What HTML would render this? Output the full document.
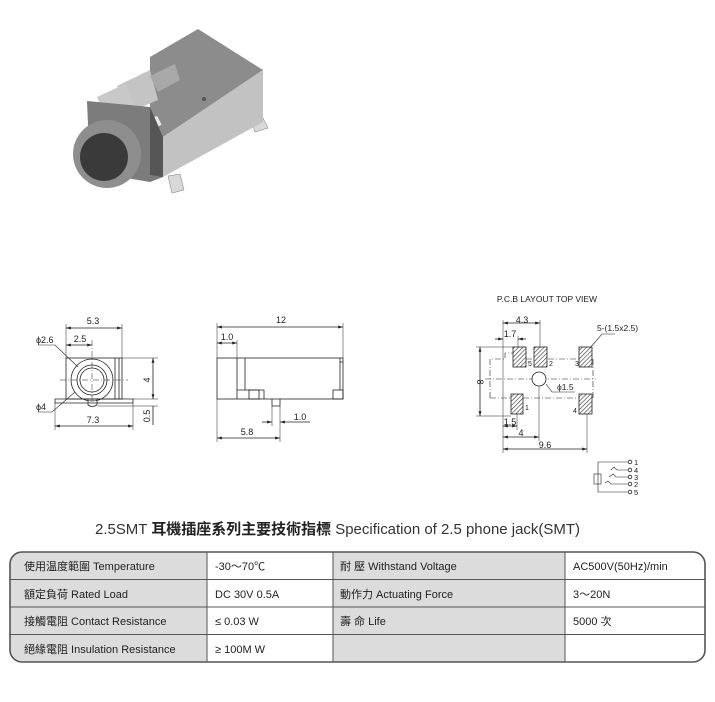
<!DOCTYPE html>
<html><head><meta charset="utf-8"><style>
html,body{margin:0;padding:0;background:#fff;}
svg{display:block;}
text{font-family:"Liberation Sans","Noto Sans CJK TC",sans-serif;fill:#222;}
.d{font-size:9px;}
.t{font-size:11px;}
</style></head><body>
<svg width="715" height="702" viewBox="0 0 715 702" xmlns="http://www.w3.org/2000/svg">
<defs>
<marker id="a" viewBox="0 0 10 10" refX="10" refY="5" markerWidth="6" markerHeight="6" orient="auto-start-reverse"><path d="M0,2 L10,5 L0,8z" fill="#222"/></marker>
<pattern id="h" width="3" height="3" patternUnits="userSpaceOnUse" patternTransform="rotate(45)"><rect width="3" height="3" fill="#fff"/><line x1="0" y1="0" x2="0" y2="3" stroke="#333" stroke-width="1.2"/></pattern>
</defs>

<!-- photo -->
<g>
<polygon points="250,118 262,116 268,128 255,132" fill="#d8d8d8" stroke="#777" stroke-width="0.5"/>
<polygon points="168,176 180,174 184,190 172,193" fill="#d8d8d8" stroke="#777" stroke-width="0.5"/>
<polygon points="150,57 198,29 263,70 163,137 150,107" fill="#8c8c8c"/>
<polygon points="263,70 263,122 163,177 163,137" fill="#c2c2c2"/>
<polygon points="117,86 150,70 158,100 130,112" fill="#c4c4c4"/>
<polygon points="97,97 125,84 138,112 108,122" fill="#c8c8c8"/>
<polygon points="150,76 175,64 180,80 158,92" fill="#a8a8a8"/>
<rect x="148" y="118" width="12" height="10" fill="#e8e8e8" transform="rotate(-28 154 123)"/>
<circle cx="204" cy="99" r="2" fill="#555"/>
<polygon points="87,101 150,107 163,137 163,177 150,182 90,172" fill="#7c7c7c"/>
<polygon points="150,107 163,137 163,177 150,175" fill="#565656"/>
<circle cx="107" cy="154" r="34" fill="#8e8e8e"/>
<circle cx="104" cy="157" r="24" fill="#3a3a3a"/>
</g>

<g stroke="#222" stroke-width="0.8" fill="none">
<!-- left view -->
<rect x="66" y="358" width="56" height="41"/>
<line x1="115" y1="358" x2="115" y2="399"/><line x1="119" y1="358" x2="119" y2="399"/>
<path d="M55,403 L55,399 L133,399 L133,403 Z"/>
<path d="M88,399 L88,405 Q92,408 97,405 L97,399"/>
<circle cx="92" cy="380" r="21"/>
<circle cx="92" cy="380" r="15"/>
<circle cx="92" cy="380" r="12"/>
<line x1="60" y1="380" x2="128" y2="380" stroke-dasharray="6,2,1,2" stroke-width="0.5"/>
<line x1="92" y1="340" x2="92" y2="403" stroke-dasharray="6,2,1,2" stroke-width="0.5"/>
<line x1="66" y1="324" x2="66" y2="358" stroke-width="0.5"/><line x1="122" y1="324" x2="122" y2="358" stroke-width="0.5"/>
<line x1="66" y1="328" x2="122" y2="328" marker-start="url(#a)" marker-end="url(#a)"/>
<line x1="66" y1="345" x2="92" y2="345" marker-start="url(#a)" marker-end="url(#a)"/>
<polyline points="38,345 55,345 78,367" stroke-width="0.6"/>
<polyline points="38,412 52,412 75,392" stroke-width="0.6"/>
<line x1="55" y1="403" x2="55" y2="430" stroke-width="0.5"/><line x1="133" y1="403" x2="133" y2="430" stroke-width="0.5"/>
<line x1="55" y1="426" x2="133" y2="426" marker-start="url(#a)" marker-end="url(#a)"/>
<line x1="122" y1="358" x2="158" y2="358" stroke-width="0.5"/><line x1="133" y1="399" x2="158" y2="399" stroke-width="0.5"/>
<line x1="98" y1="406" x2="158" y2="406" stroke-width="0.5"/>
<line x1="153" y1="358" x2="153" y2="399" marker-start="url(#a)" marker-end="url(#a)"/>
<line x1="153" y1="406" x2="153" y2="425"/>
<!-- middle view -->
<rect x="217" y="358" width="126" height="41"/>
<line x1="237" y1="358" x2="237" y2="399"/><line x1="245" y1="358" x2="245" y2="390"/>
<path d="M237,390 L264,390 L264,399"/>
<rect x="249" y="390" width="10" height="9"/>
<path d="M340,358 L340,362 L343,362"/>
<line x1="340" y1="362" x2="340" y2="390"/>
<rect x="333" y="390" width="10" height="9"/>
<path d="M272,399 L272,406 L280,406 L280,399"/>
<line x1="217" y1="323" x2="217" y2="358" stroke-width="0.5"/><line x1="343" y1="323" x2="343" y2="358" stroke-width="0.5"/>
<line x1="217" y1="327" x2="343" y2="327" marker-start="url(#a)" marker-end="url(#a)"/>
<line x1="237" y1="340" x2="237" y2="358" stroke-width="0.5"/>
<line x1="217" y1="343" x2="237" y2="343" marker-start="url(#a)" marker-end="url(#a)"/>
<line x1="217" y1="399" x2="217" y2="442" stroke-width="0.5"/>
<line x1="272" y1="406" x2="272" y2="426" stroke-width="0.5"/><line x1="280" y1="406" x2="280" y2="442" stroke-width="0.5"/>
<line x1="262" y1="422" x2="272" y2="422" marker-end="url(#a)"/>
<line x1="310" y1="422" x2="280" y2="422" marker-end="url(#a)"/>
<line x1="217" y1="438" x2="280" y2="438" marker-start="url(#a)" marker-end="url(#a)"/>
<!-- PCB -->
<g stroke-dasharray="6,2,1,2" stroke-width="0.6">
<polyline points="490,398 490,359 505,359 505,353 513,353"/>
<line x1="526" y1="359" x2="592" y2="359"/>
<line x1="485" y1="379" x2="596" y2="379"/>
<polyline points="490,398 511,398"/>
<line x1="523" y1="398" x2="579" y2="398"/>
<line x1="593" y1="359" x2="593" y2="398"/>
</g>
<g fill="url(#h)" stroke="#222">
<rect x="513" y="347" width="13" height="20"/>
<rect x="534" y="347" width="13" height="20"/>
<rect x="579" y="347" width="13" height="20"/>
<rect x="511" y="394" width="12" height="20"/>
<rect x="579" y="394" width="13" height="20"/>
</g>
<circle cx="539" cy="379" r="7" fill="#fff"/>
<polyline points="546,384 552,392 575,392" stroke-width="0.6"/>
<polyline points="590,348 602,334 615,334" stroke-width="0.6"/>
<line x1="476" y1="347" x2="513" y2="347" stroke-width="0.5"/><line x1="476" y1="416" x2="511" y2="416" stroke-width="0.5"/>
<line x1="480" y1="347" x2="480" y2="416" marker-start="url(#a)" marker-end="url(#a)"/>
<line x1="503" y1="320" x2="503" y2="453" stroke-width="0.5"/>
<line x1="540" y1="320" x2="540" y2="347" stroke-width="0.5"/>
<line x1="518" y1="336" x2="518" y2="347" stroke-width="0.5"/>
<line x1="503" y1="323" x2="540" y2="323" marker-start="url(#a)" marker-end="url(#a)"/>
<line x1="495" y1="339" x2="503" y2="339" marker-end="url(#a)"/>
<line x1="526" y1="339" x2="518" y2="339" marker-end="url(#a)"/>
<line x1="517" y1="414" x2="517" y2="430" stroke-width="0.5"/>
<line x1="503" y1="426" x2="517" y2="426" marker-start="url(#a)" marker-end="url(#a)"/>
<line x1="539" y1="386" x2="539" y2="441" stroke-width="0.5"/>
<line x1="503" y1="437" x2="539" y2="437" marker-start="url(#a)" marker-end="url(#a)"/>
<line x1="587" y1="414" x2="587" y2="453" stroke-width="0.5"/>
<line x1="503" y1="449" x2="587" y2="449" marker-start="url(#a)" marker-end="url(#a)"/>
<!-- schematic -->
<polyline points="598,487 598,462 628,462" stroke-width="0.6"/>
<rect x="594" y="474" width="7" height="10" stroke-width="0.6"/>
<polyline points="611,470 614,467 617,470 628,470" stroke-width="0.6"/>
<polyline points="609,477 613,474 616,477 628,477" stroke-width="0.6"/>
<polyline points="605,483 608,481 611,484 628,484" stroke-width="0.6"/>
<polyline points="598,487 598,492 628,492" stroke-width="0.6"/>
<circle cx="630" cy="462" r="1.8"/><circle cx="630" cy="470" r="1.8"/><circle cx="630" cy="477" r="1.8"/><circle cx="630" cy="484" r="1.8"/><circle cx="630" cy="492" r="1.8"/>
</g>

<g class="d">
<text x="93" y="324" text-anchor="middle">5.3</text>
<text x="80" y="342" text-anchor="middle">2.5</text>
<text x="36" y="343">ϕ2.6</text>
<text x="36" y="410">ϕ4</text>
<text x="93" y="423" text-anchor="middle">7.3</text>
<text transform="translate(150,380) rotate(-90)" text-anchor="middle">4</text>
<text transform="translate(150,416) rotate(-90)" text-anchor="middle">0.5</text>
<text x="281" y="323" text-anchor="middle">12</text>
<text x="227" y="340" text-anchor="middle">1.0</text>
<text x="300" y="420" text-anchor="middle">1.0</text>
<text x="247" y="435" text-anchor="middle">5.8</text>
<text x="547" y="302" text-anchor="middle" font-size="8.5">P.C.B LAYOUT TOP VIEW</text>
<text x="522" y="323" text-anchor="middle">4.3</text>
<text x="510" y="337" text-anchor="middle">1.7</text>
<text x="597" y="331" font-size="8.5">5-(1.5x2.5)</text>
<text transform="translate(477,382) rotate(90)" text-anchor="middle">8</text>
<text x="557" y="390" font-size="8.5">ϕ1.5</text>
<text x="528" y="366" font-size="7">5</text><text x="549" y="366" font-size="7">2</text><text x="575" y="366" font-size="7">3</text>
<text x="525" y="410" font-size="7">1</text><text x="573" y="413" font-size="7">4</text>
<text x="510" y="425" text-anchor="middle">1.5</text>
<text x="521" y="436" text-anchor="middle">4</text>
<text x="545" y="448" text-anchor="middle">9.6</text>
<g font-size="7.5"><text x="634" y="465">1</text><text x="634" y="473">4</text><text x="634" y="480">3</text><text x="634" y="487">2</text><text x="634" y="495">5</text></g>
</g>

<text x="95" y="534" font-size="15" textLength="485" lengthAdjust="spacingAndGlyphs"><tspan fill="#333">2.5SMT  </tspan><tspan font-weight="bold" fill="#222">耳機插座系列主要技術指標</tspan><tspan fill="#333"> Specification of 2.5 phone jack(SMT)</tspan></text>

<clipPath id="c"><rect x="10" y="552" width="695" height="110" rx="12"/></clipPath>
<g clip-path="url(#c)">
<rect x="10" y="552" width="695" height="110" fill="#fff"/>
<rect x="10" y="552" width="197" height="110" fill="#dcdcdc"/>
<rect x="333" y="552" width="232" height="110" fill="#dcdcdc"/>
</g>
<g stroke="#555" stroke-width="1" fill="none">
<rect x="10" y="552" width="695" height="110" rx="12" stroke-width="1.6"/>
<line x1="10" y1="579.5" x2="705" y2="579.5"/>
<line x1="10" y1="607" x2="705" y2="607"/>
<line x1="10" y1="634.5" x2="705" y2="634.5"/>
<line x1="207" y1="552" x2="207" y2="662"/>
<line x1="333" y1="552" x2="333" y2="662"/>
<line x1="565" y1="552" x2="565" y2="662"/>
</g>
<g class="t" fill="#222">
<text x="24" y="570">使用温度範圍 Temperature</text>
<text x="24" y="598">額定負荷  Rated Load</text>
<text x="24" y="625">接觸電阻  Contact Resistance</text>
<text x="24" y="653">絕緣電阻  Insulation Resistance</text>
<text x="215" y="570">-30～70℃</text>
<text x="215" y="598">DC  30V  0.5A</text>
<text x="215" y="625">≤ 0.03 W</text>
<text x="215" y="653">≥ 100M W</text>
<text x="340" y="570">耐    壓  Withstand Voltage</text>
<text x="340" y="598">動作力  Actuating Force</text>
<text x="340" y="625">壽    命  Life</text>
<text x="573" y="570">AC500V(50Hz)/min</text>
<text x="573" y="598">3～20N</text>
<text x="573" y="625">5000 次</text>
</g>
</svg>
</body></html>
